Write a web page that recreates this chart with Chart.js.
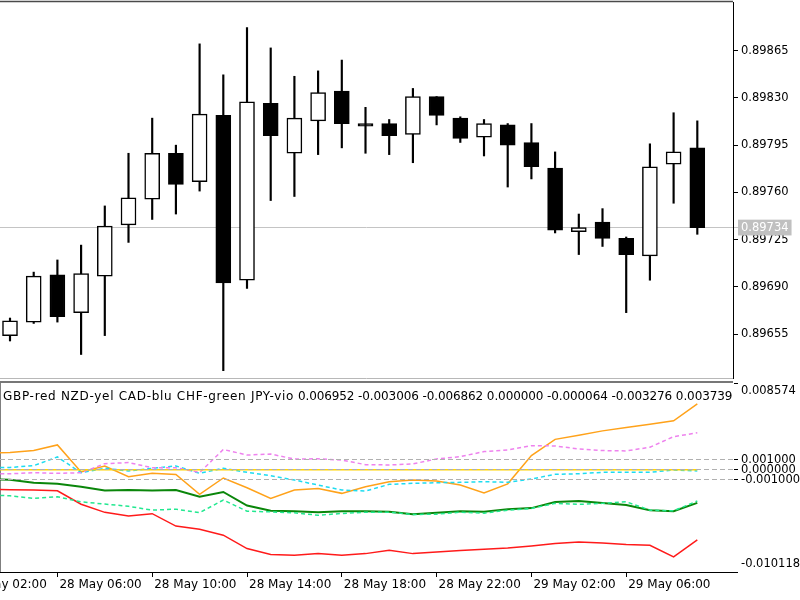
<!DOCTYPE html>
<html><head><meta charset="utf-8">
<script src="https://cdn.jsdelivr.net/npm/chart.js@4.4.1/dist/chart.umd.min.js"></script>
<style>
html,body{margin:0;padding:0;background:#fff;width:800px;height:600px;overflow:hidden;}
#c1{position:absolute;left:0;top:0;}
#c2{position:absolute;left:0;top:380px;}
#legend{position:absolute;left:3px;top:389px;width:730px;overflow:hidden;white-space:nowrap;font-family:"DejaVu Sans";font-size:12px;line-height:14px;color:#000;}
#legend .n{letter-spacing:0.7px;}
#legend .v{letter-spacing:-0.1px;}
</style></head><body>
<canvas id="c1" width="800" height="380"></canvas>
<canvas id="c2" width="800" height="220"></canvas>
<div id="legend"><span class="n" id="lgN"></span> <span class="v" id="lgV"></span></div>
<script>
// ---------- data ----------
const firstCandleTime = '28 May 04:00';
const openP  = [0.89654,0.89664,0.89699,0.89671,0.89698,0.89736,0.89755,0.89789,0.89768,0.89817,0.89695,0.89826,0.89789,0.89813,0.89835,0.89811,0.89811,0.89803,0.89831,0.89815,0.89801,0.89810,0.89797,0.89778,0.89731,0.89738,0.89726,0.89713,0.89781,0.89793];
const highP  = [0.89667,0.89701,0.89710,0.89721,0.89750,0.89789,0.89815,0.89795,0.89870,0.89847,0.89882,0.89867,0.89846,0.89850,0.89858,0.89823,0.89814,0.89837,0.89831,0.89816,0.89814,0.89811,0.89811,0.89790,0.89744,0.89748,0.89727,0.89796,0.89819,0.89813];
const lowP   = [0.89650,0.89663,0.89664,0.89640,0.89654,0.89723,0.89740,0.89744,0.89761,0.89628,0.89689,0.89754,0.89757,0.89788,0.89793,0.89789,0.89788,0.89782,0.89810,0.89797,0.89787,0.89764,0.89770,0.89730,0.89714,0.89720,0.89671,0.89695,0.89752,0.89729];
const closeP = [0.89665,0.89698,0.89668,0.89700,0.89735,0.89756,0.89789,0.89766,0.89818,0.89693,0.89827,0.89802,0.89815,0.89834,0.89811,0.89809,0.89802,0.89831,0.89817,0.89800,0.89811,0.89795,0.89779,0.89732,0.89734,0.89726,0.89714,0.89779,0.89790,0.89734];
const currentPrice = 0.89734;
const priceTicks = [0.89655,0.89690,0.89725,0.89760,0.89795,0.89830,0.89865];
const priceMin = 0.896226, priceMax = 0.899010;

const firstLineTime = '28 May 03:00';
const orangeLine = [0.00165,0.00170,0.00190,0.00245,-0.00022,0.00037,-0.00069,-0.00036,-0.00048,-0.00244,-0.00082,-0.00178,-0.00284,-0.00201,-0.00185,-0.00234,-0.00168,-0.00119,-0.00102,-0.00112,-0.00152,-0.00230,-0.00140,0.00140,0.00300,0.00340,0.00384,0.00417,0.00450,0.00483,0.00650];
const violetLine = [-0.00040,-0.00040,-0.00030,-0.00036,-0.00030,0.00060,0.00070,0.00020,0.00020,-0.00028,0.00200,0.00145,0.00155,0.00105,0.00108,0.00095,0.00050,0.00047,0.00057,0.00106,0.00129,0.00179,0.00195,0.00238,0.00235,0.00205,0.00189,0.00186,0.00222,0.00327,0.00365];
const cyanLine   = [0.00020,0.00022,0.00040,0.00126,-0.00030,0.00014,-0.00013,0.00014,0.00037,-0.00036,0.00014,-0.00026,-0.00060,-0.00102,-0.00152,-0.00201,-0.00211,-0.00145,-0.00135,-0.00129,-0.00125,-0.00119,-0.00125,-0.00092,-0.00046,-0.00040,-0.00026,-0.00026,-0.00026,-0.00003,-0.00012];
const yellowLine = [0,0,0,0,0,0,0,0,0,0,0,0,0,0,0,0,0,0,0,0,0,0,0,0,0,0,0,0,0,0,0];
const greenLine  = [-0.00094,-0.00100,-0.00130,-0.00140,-0.00168,-0.00205,-0.00201,-0.00205,-0.00201,-0.00268,-0.00220,-0.00355,-0.00405,-0.00410,-0.00420,-0.00410,-0.00410,-0.00417,-0.00440,-0.00427,-0.00410,-0.00417,-0.00390,-0.00380,-0.00320,-0.00310,-0.00330,-0.00350,-0.00400,-0.00410,-0.00328];
const springLine = [-0.00251,-0.00258,-0.00284,-0.00268,-0.00318,-0.00340,-0.00362,-0.00400,-0.00390,-0.00425,-0.00300,-0.00410,-0.00417,-0.00427,-0.00450,-0.00433,-0.00420,-0.00420,-0.00443,-0.00440,-0.00420,-0.00430,-0.00400,-0.00383,-0.00333,-0.00343,-0.00333,-0.00317,-0.00400,-0.00407,-0.00310];
const redLine    = [-0.00195,-0.00198,-0.00201,-0.00208,-0.00342,-0.00422,-0.00458,-0.00435,-0.00558,-0.00590,-0.00648,-0.00780,-0.00838,-0.00846,-0.00830,-0.00846,-0.00830,-0.00797,-0.00830,-0.00813,-0.00800,-0.00787,-0.00774,-0.00754,-0.00730,-0.00714,-0.00724,-0.00740,-0.00747,-0.00863,-0.00695];
const indMin = -0.010118, indMax = 0.008574;
const indTicks = [-0.010118,-0.001,0,0.001,0.008574];

const timeTickLabels = ['28 May 02:00','28 May 06:00','28 May 10:00','28 May 14:00','28 May 18:00','28 May 22:00','29 May 02:00','29 May 06:00'];
const legendNames = ['GBP-red','NZD-yel','CAD-blu','CHF-green','JPY-vio'];
const legendValues = ['0.006952','-0.003006','-0.006862','0.000000','-0.000064','-0.003276','0.003739'];

// ---------- helpers ----------
function hourOf(label){ const p = label.split(' '); const hm = p[2].split(':'); return (parseInt(p[0],10)-28)*24 + parseInt(hm[0],10); }
const c0 = hourOf(firstCandleTime);
const l0 = hourOf(firstLineTime);
const xMin = c0 - 0.422, xMax = c0 + 30.506;
const FONT = 'DejaVu Sans';
const clear = 'rgba(0,0,0,0)';

document.getElementById('lgN').textContent = legendNames.join(' ');
document.getElementById('lgV').textContent = legendValues.join(' ');

// ---------- top chart (candles) ----------
const frameTop = { id:'frameTop', afterDraw(chart){
  const {ctx, chartArea:a} = chart; ctx.save();
  ctx.strokeStyle='#4a4a4a'; ctx.lineWidth=1.5; ctx.beginPath(); ctx.moveTo(0,a.top-0.5); ctx.lineTo(a.right,a.top-0.5); ctx.stroke();
  ctx.strokeStyle='#b8b8b8'; ctx.lineWidth=1; ctx.beginPath(); ctx.moveTo(0,a.bottom+0.5); ctx.lineTo(a.right,a.bottom+0.5); ctx.stroke();
  ctx.restore(); } };

new Chart(document.getElementById('c1'), {
  type:'bar',
  data:{ datasets:[
    { label:'body', data: openP.map((o,i)=>({x:c0+i, y:[o, closeP[i]]})),
      backgroundColor: openP.map((o,i)=> closeP[i]>=o ? '#ffffff' : '#000000'),
      borderColor:'#000', borderWidth:1.5, borderSkipped:false, barThickness:15, grouped:false, order:0 },
    { label:'wick', data: lowP.map((l,i)=>({x:c0+i, y:[l, highP[i]]})),
      backgroundColor:'#000', borderWidth:0, barThickness:1.5, grouped:false, order:1 }
  ]},
  options:{
    responsive:false, animation:false, events:[],
    layout:{padding:{top:2,bottom:2,left:0,right:0}},
    plugins:{legend:{display:false}, tooltip:{enabled:false}},
    scales:{
      x:{type:'linear', display:false, min:xMin, max:xMax, offset:false, bounds:'data'},
      y:{type:'linear', position:'right', min:priceMin, max:priceMax, bounds:'data',
        afterBuildTicks: s => { s.ticks = priceTicks.concat([currentPrice]).map(v=>({value:v})); },
        afterFit: s => { s.width = 67; s.paddingTop = 0; s.paddingBottom = 0; },
        border:{display:true, color:'#000', width:1},
        grid:{drawOnChartArea:true, drawTicks:true, tickLength:5, lineWidth:1,
          color: c => (c.tick && c.tick.value===currentPrice) ? '#c4c4c4' : clear,
          tickColor: c => (c.tick && c.tick.value===currentPrice) ? '#c4c4c4' : '#000'},
        ticks:{autoSkip:false, padding:3, font:{family:FONT, size:11.5},
          color: c => (c.tick && c.tick.value===currentPrice) ? '#ffffff' : '#000',
          showLabelBackdrop: c => !!(c.tick && c.tick.value===currentPrice),
          backdropColor:'#c0c0c0', backdropPadding:{top:1,bottom:1,left:3,right:3},
          callback: v => Number(v).toFixed(5)}
      }
    }
  },
  plugins:[frameTop]
});

// ---------- bottom chart (indicator) ----------
const series = [
  {name:'yellow', values:yellowLine, color:'#FFD400', width:1.5, dash:[]},
  {name:'violet', values:violetLine, color:'#EE82EE', width:1.5, dash:[4,3]},
  {name:'cyan',   values:cyanLine,   color:'#1EDCF0', width:1.5, dash:[4,3]},
  {name:'spring', values:springLine, color:'#22E890', width:1.5, dash:[4,3]},
  {name:'green',  values:greenLine,  color:'#0A860A', width:2,   dash:[]},
  {name:'red',    values:redLine,    color:'#FF1A1A', width:1.5, dash:[]},
  {name:'orange', values:orangeLine, color:'#FFA21A', width:1.5, dash:[]}
];
const frameBot = { id:'frameBot', afterDraw(chart){
  const {ctx, chartArea:a} = chart; ctx.save();
  ctx.strokeStyle='#4a4a4a'; ctx.lineWidth=1.5; ctx.beginPath(); ctx.moveTo(0,a.top-1); ctx.lineTo(a.right,a.top-1); ctx.stroke();
  ctx.restore(); } };

new Chart(document.getElementById('c2'), {
  type:'line',
  data:{ datasets: series.map(s=>({label:s.name, data:s.values.map((v,i)=>({x:l0+i, y:v})),
    borderColor:s.color, borderWidth:s.width, borderDash:s.dash, pointRadius:0, tension:0, fill:false})) },
  options:{
    responsive:false, animation:false, events:[],
    layout:{padding:{top:3,bottom:0,left:0,right:0}},
    plugins:{legend:{display:false}, tooltip:{enabled:false}},
    scales:{
      x:{type:'linear', position:'bottom', min:xMin, max:xMax, bounds:'data', offset:false,
        afterBuildTicks: s => { s.ticks = timeTickLabels.map(t=>({value:hourOf(t)})); },
        afterFit: s => { s.height = 28; s.paddingLeft = 0; s.paddingRight = 0; },
        border:{display:true, color:'#000', width:1},
        grid:{drawOnChartArea:false, drawTicks:true, tickLength:5, tickColor:'#000'},
        ticks:{autoSkip:false, maxRotation:0, minRotation:0, align:'start', padding:1, labelOffset:2,
          font:{family:FONT, size:12}, color:'#000', callback:(v,i)=>timeTickLabels[i]}
      },
      y:{type:'linear', position:'right', min:indMin, max:indMax, bounds:'data',
        afterBuildTicks: s => { s.ticks = indTicks.map(v=>({value:v})); },
        afterFit: s => { s.width = 67; s.paddingTop = 0; s.paddingBottom = 0; },
        border:{display:true, color:'#000', width:1, dash:[5,3]},
        grid:{drawOnChartArea:true, drawTicks:true, tickLength:5, tickColor:'#000', tickBorderDash:[], z:1,
          color: c => (c.tick && (c.tick.value===indMin || c.tick.value===indMax)) ? clear : '#b0b0b0'},
        ticks:{autoSkip:false, padding:3, font:{family:FONT, size:11.5, lineHeight:1.45}, color:'#000',
          callback: v => { const t = Number(v).toFixed(6); return v===indMax ? ['', t] : (v===indMin ? [t, ''] : t); }}
      }
    }
  },
  plugins:[frameBot]
});
</script>
</body></html>
